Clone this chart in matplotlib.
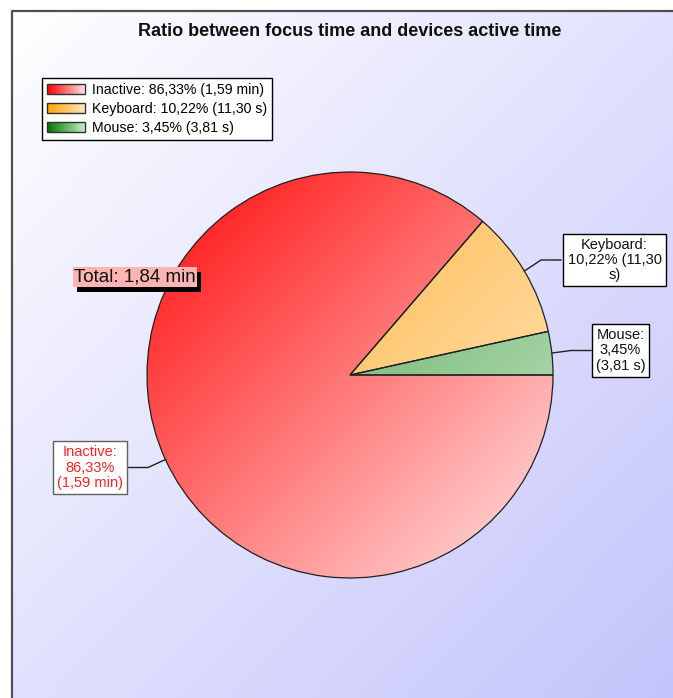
import numpy as np
import matplotlib
matplotlib.use("Agg")
import matplotlib.pyplot as plt
from matplotlib.patches import Rectangle
from matplotlib.legend_handler import HandlerBase

plt.rcParams["font.family"] = ["Liberation Sans", "DejaVu Sans"]

# ---- data ----
TITLE = "Ratio between focus time and devices active time"
categories = ["Inactive", "Keyboard", "Mouse"]
percents = [86.33, 10.22, 3.45]
durations = ["1,59 min", "11,30 s", "3,81 s"]
total = "1,84 min"

# gradient endpoints per slice (dark -> light)
C_DARK = [(255, 10, 10), (255, 170, 40), (60, 150, 60)]
C_LIGHT = [(255, 228, 228), (255, 235, 200), (200, 232, 200)]
LEG_DARK = [(255, 0, 0), (255, 165, 0), (0, 120, 0)]
LEG_LIGHT = [(255, 225, 225), (255, 230, 190), (200, 235, 200)]

W, H = 673, 698
fig = plt.figure(figsize=(W / 100, H / 100), dpi=100)
ax = fig.add_axes([0, 0, 1, 1])

def fmt(v):
    return f"{v:.2f}".replace(".", ",")

# ---- background panel with diagonal gradient ----
n = 200
u = np.linspace(0, 1, n)
tt = (u[None, :] + u[:, None]) / 2
c0 = np.array([255, 255, 255]) / 255; c1 = np.array([196, 196, 252]) / 255
bg = c0[None, None, :] * (1 - tt[..., None]) + c1[None, None, :] * tt[..., None]
ax.imshow(bg, extent=(11, W, 0, H - 10), origin="upper", zorder=0, interpolation="bilinear")
ax.plot([11.5, 11.5, W], [0, H - 10.5, H - 10.5], color="#505050", lw=1.6, zorder=1)

# ---- pie ----
cx, cy, R = 350, H - 375, 203
wedges, _ = ax.pie(percents, startangle=0, counterclock=False, center=(cx, cy), radius=R,
                   wedgeprops=dict(ec="#202020", lw=0.9), normalize=True)
for i, w in enumerate(wedges):
    d = np.array(C_DARK[i]) / 255; l = np.array(C_LIGHT[i]) / 255
    img = d[None, None, :] * (1 - tt[..., None]) + l[None, None, :] * tt[..., None]
    im = ax.imshow(img, extent=(cx - R, cx + R, cy - R, cy + R), origin="upper",
                   zorder=2, interpolation="bilinear")
    im.set_clip_path(w)
    w.set_facecolor("none")
    w.set_zorder(3)

# ---- legend with gradient swatches ----
class GradHandler(HandlerBase):
    def __init__(self, c_a, c_b):
        super().__init__()
        self.c_a = np.array(c_a) / 255; self.c_b = np.array(c_b) / 255
    def create_artists(self, legend, orig, xd, yd, width, height, fontsize, trans):
        arts = []
        k = 30
        for j in range(k):
            t = j / (k - 1)
            col = self.c_a * (1 - t) + self.c_b * t
            arts.append(Rectangle((-xd + width * j / k, -yd), width / k * 1.2, height,
                                  fc=col, ec="none", transform=trans))
        arts.append(Rectangle((-xd, -yd), width, height, fc="none", ec="#303030",
                              lw=1.0, transform=trans))
        return arts

labels = [f"{c}: {fmt(p)}% ({d})" for c, p, d in zip(categories, percents, durations)]
hmap = {w: GradHandler(LEG_DARK[i], LEG_LIGHT[i]) for i, w in enumerate(wedges)}
leg = ax.legend(wedges, labels, handler_map=hmap, loc="upper left",
                bbox_to_anchor=(42, H - 78), bbox_transform=ax.transData,
                fontsize=10.2, frameon=True, fancybox=False, framealpha=1,
                edgecolor="black", handlelength=2.7, handleheight=0.72,
                labelspacing=0.34, handletextpad=0.45, borderpad=0.36, borderaxespad=0)
leg.get_frame().set_linewidth(1.0)
leg.set_zorder(6)

# ---- title ----
ax.text(350, H - 31, TITLE, ha="center", va="center", fontsize=13, fontweight="bold",
        color="#101010", zorder=6)

# ---- slice labels with connectors ----
box_pos = [(90, H - 467.5), (614.5, H - 260), (620.5, H - 350.5)]
elbow_x = [148, 541, 571]
for i, w in enumerate(wedges):
    mid = np.deg2rad((w.theta1 + w.theta2) / 2)
    ex, ey = cx + R * np.cos(mid), cy + R * np.sin(mid)
    bx, by = box_pos[i]
    side = -1 if bx < cx else 1
    ax.plot([ex, elbow_x[i], elbow_x[i] + side * 20], [ey, by, by], color="#202020",
            lw=1.0, zorder=4)
    if categories[i] == "Keyboard":
        num, unit = durations[i].split(" ")
        txt = f"{categories[i]}:\n{fmt(percents[i])}% ({num}\n{unit})"
    else:
        txt = f"{categories[i]}:\n{fmt(percents[i])}%\n({durations[i]})"
    red = categories[i] == "Inactive"
    ax.text(bx, by, txt, ha="center", va="center", multialignment="center", fontsize=10.5,
            linespacing=1.12, color="#ff2020" if red else "#101010", zorder=7,
            bbox=dict(boxstyle="square,pad=0.28", fc="white",
                      ec="#606060" if red else "black", lw=1.0))

# ---- total label with drop shadow ----
tot = f"Total: {total}"
ttxt = ax.text(135, H - 277, tot, ha="center", va="center", fontsize=13.5, color="#101010",
               zorder=6, bbox=dict(boxstyle="square,pad=0.06", fc="#ffb4b4", ec="none"))

ax.set_xlim(0, W); ax.set_ylim(0, H)
ax.set_aspect("auto")
ax.axis("off")

fig.canvas.draw()
bb = ttxt.get_bbox_patch().get_window_extent().transformed(ax.transData.inverted())
ax.add_patch(Rectangle((bb.x0 + 4, bb.y0 - 5), bb.width, bb.height, fc="black", ec="none",
                       zorder=5))
fig.savefig("out.png", dpi=100, facecolor="white")
